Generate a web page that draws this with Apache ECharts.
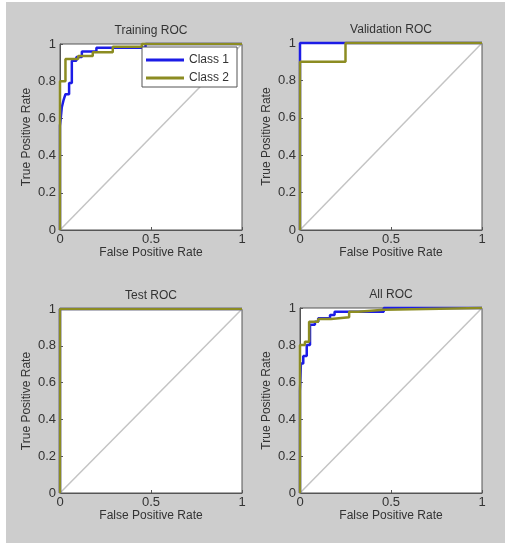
<!DOCTYPE html>
<html>
<head>
<meta charset="utf-8">
<script src="https://cdn.jsdelivr.net/npm/echarts@6/dist/echarts.min.js"></script>
<style>
    html, body { margin: 0; padding: 0; background: #fff; }
    #roc { position: absolute; left: 6px; top: 2px; width: 499px; height: 541px; }
</style>
</head>
<body>
<div id="roc"></div>
<script>
// ROC points, [false positive rate, true positive rate]
var trainClass1 = [[0, 0], [0, 0.56], [0.01, 0.56], [0.01, 0.66], [0.02, 0.66], [0.02, 0.70], [0.03, 0.70], [0.03, 0.73], [0.05, 0.73], [0.05, 0.79], [0.065, 0.79], [0.065, 0.91], [0.09, 0.91], [0.09, 0.93], [0.12, 0.93], [0.12, 0.96], [0.2, 0.96], [0.2, 0.98], [0.47, 0.98], [0.47, 1], [1, 1]];
var trainClass2 = [[0, 0], [0, 0.8], [0.03, 0.8], [0.03, 0.92], [0.1, 0.92], [0.1, 0.935], [0.18, 0.935], [0.18, 0.955], [0.29, 0.955], [0.29, 0.985], [0.45, 0.985], [0.45, 1], [1, 1]];
var valClass1 = [[0, 0], [0, 1], [1, 1]];
var valClass2 = [[0, 0], [0, 0.9], [0.25, 0.9], [0.25, 1], [1, 1]];
var testClass1 = [[0, 0], [0, 1], [1, 1]];
var testClass2 = [[0, 0], [0, 1], [1, 1]];
var allClass1 = [[0, 0], [0, 0.55], [0.005, 0.55], [0.005, 0.70], [0.018, 0.70], [0.018, 0.74], [0.037, 0.74], [0.037, 0.80], [0.055, 0.80], [0.055, 0.91], [0.082, 0.91], [0.082, 0.926], [0.1, 0.926], [0.1, 0.944], [0.165, 0.944], [0.165, 0.962], [0.19, 0.962], [0.19, 0.98], [0.46, 0.98], [0.46, 1], [1, 1]];
var allClass2 = [[0, 0], [0, 0.8], [0.027, 0.8], [0.027, 0.818], [0.05, 0.818], [0.05, 0.926], [0.1, 0.926], [0.1, 0.94], [0.17, 0.94], [0.17, 0.95], [0.27, 0.95], [0.27, 0.98], [0.32, 0.98], [0.32, 0.99], [0.46, 0.99], [0.46, 1], [1, 1]];
var diagonal = [[0, 0], [1, 1]];

var titles = ['Training ROC', 'Validation ROC', 'Test ROC', 'All ROC'];
var classNames = ['Class 1', 'Class 2'];
var curves = [
    [trainClass1, trainClass2],
    [valClass1, valClass2],
    [testClass1, testClass2],
    [allClass1, allClass2]
];

var FONT = '"Liberation Sans", Arial, sans-serif';
var TXT = '#333';
var AXC = '#555';
var colors = ['#1c1ce6', '#8c8c22'];

// plot boxes (inside the gray panel)
var boxes = [
    { left: 54, top: 42, width: 182, height: 186 },
    { left: 294, top: 41, width: 182, height: 187 },
    { left: 54, top: 307, width: 182, height: 184 },
    { left: 294, top: 306, width: 182, height: 185 }
];
var titleTops = [23, 22, 288, 287];

var grids = [], xAxes = [], yAxes = [], titleOpts = [], series = [];
for (var i = 0; i < 4; i++) {
    var b = boxes[i];
    grids.push({
        left: b.left, top: b.top, width: b.width, height: b.height,
        show: true, backgroundColor: '#fff', borderColor: AXC, borderWidth: 1
    });
    titleOpts.push({
        text: titles[i], left: b.left + b.width / 2, top: titleTops[i], textAlign: 'center', padding: 0,
        textStyle: { fontSize: 12, fontWeight: 'normal', color: TXT, fontFamily: FONT }
    });
    xAxes.push({
        gridIndex: i, type: 'value', min: 0, max: 1, interval: 0.5,
        name: 'False Positive Rate', nameLocation: 'middle', nameGap: 15,
        nameTextStyle: { fontSize: 12, color: TXT, fontFamily: FONT },
        axisLine: { lineStyle: { color: AXC } },
        axisTick: { inside: true, length: 3, lineStyle: { color: AXC } },
        axisLabel: { margin: 3, fontSize: 13, color: TXT, fontFamily: FONT },
        splitLine: { show: false }
    });
    yAxes.push({
        gridIndex: i, type: 'value', min: 0, max: 1, interval: 0.2,
        name: 'True Positive Rate', nameLocation: 'middle', nameGap: 27,
        nameTextStyle: { fontSize: 12, color: TXT, fontFamily: FONT },
        axisLine: { lineStyle: { color: AXC } },
        axisTick: { inside: true, length: 3, lineStyle: { color: AXC } },
        axisLabel: { margin: 4, fontSize: 13, color: TXT, fontFamily: FONT },
        splitLine: { show: false }
    });
    series.push({
        type: 'line', xAxisIndex: i, yAxisIndex: i, data: diagonal, symbol: 'none',
        silent: true, clip: false, z: 1,
        lineStyle: { color: '#c4c4c4', width: 1.5 }
    });
    for (var c = 0; c < 2; c++) {
        series.push({
            name: classNames[c], type: 'line', xAxisIndex: i, yAxisIndex: i,
            data: curves[i][c], symbol: 'none', clip: false, z: 2 + c,
            color: colors[c],
            lineStyle: { color: colors[c], width: 2.5 }
        });
    }
}

var myChart = echarts.init(document.getElementById('roc'));
myChart.setOption({
    backgroundColor: '#cdcdcd',
    animation: false,
    title: titleOpts,
    legend: {
        data: classNames, orient: 'vertical', left: 136, top: 45,
        icon: 'rect', itemWidth: 38, itemHeight: 3, itemGap: 4,
        padding: [6, 8, 2, 4],
        backgroundColor: '#fff', borderColor: AXC, borderWidth: 1,
        textStyle: { fontSize: 12, color: TXT, fontFamily: FONT, lineHeight: 14 }
    },
    grid: grids,
    xAxis: xAxes,
    yAxis: yAxes,
    series: series
});
</script>
</body>
</html>
